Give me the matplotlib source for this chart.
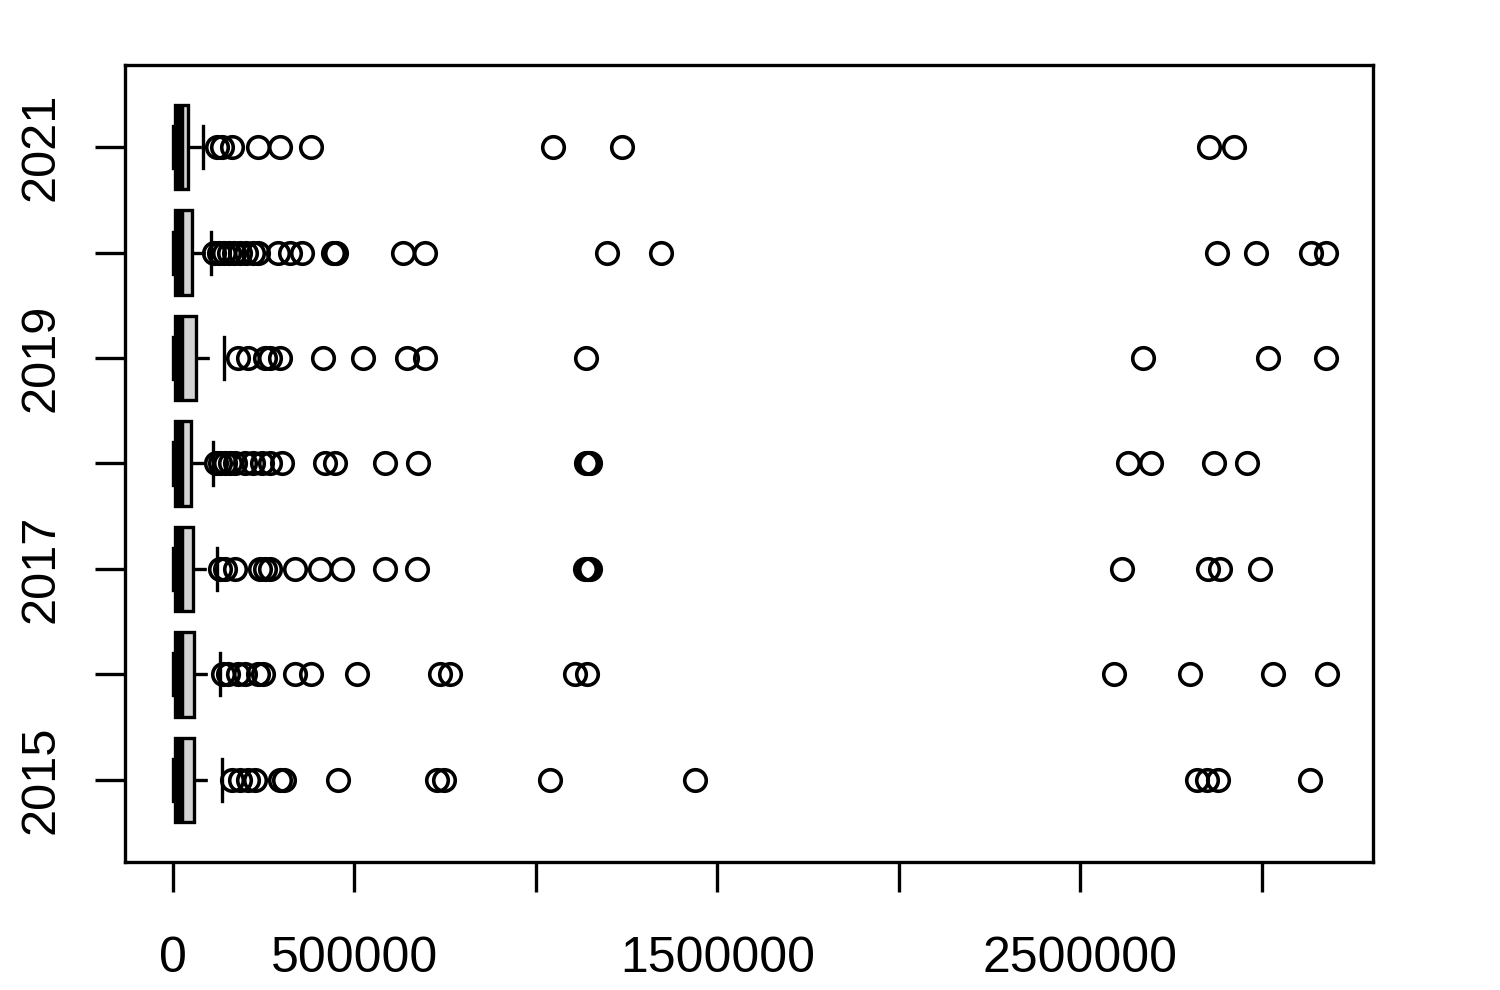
import matplotlib
matplotlib.use("Agg")
import matplotlib.pyplot as plt

plt.rcParams['font.family'] = ['Liberation Sans', 'DejaVu Sans']

# -------------------------------
# Data
# -------------------------------
years = [2015, 2016, 2017, 2018, 2019, 2020, 2021]
year_labels = ['2015', '', '2017', '', '2019', '', '2021']

whislo = [0, 0, 0, 0, 0, 0, 0]
q1 = [5000, 5000, 5000, 5000, 5000, 5000, 5000]
medians = [17000, 17000, 17000, 17000, 17000, 17000, 17000]
q3 = [58000, 58000, 55000, 50000, 63000, 52000, 41000]
whishi = [135000, 129000, 121000, 110000, 140000, 105000, 83000]

out_2015 = [162500, 185000, 207000, 226000, 295000, 306000, 455000, 727000,
            747000, 1039000, 1438000, 2821000, 2848000, 2879000, 3132000]
out_2016 = [138000, 152000, 179000, 198000, 234000, 248000, 336000, 380000,
            507000, 736000, 763000, 1107000, 1140000, 2592000, 2802000,
            3030000, 3179000]
out_2017 = [129000, 143000, 171000, 240000, 253000, 267000, 336000, 405000,
            466000, 584000, 672000, 1135000, 1143000, 1149000, 2614000,
            2851000, 2884000, 2994000]
out_2018 = [118000, 129000, 143000, 157000, 171000, 198000, 220000, 245000,
            267000, 300000, 419000, 446000, 584000, 675000, 1138000, 1143000,
            1149000, 2631000, 2694000, 2868000, 2959000]
out_2019 = [179000, 207000, 253000, 267000, 295000, 413000, 523000, 645000,
            694000, 1138000, 2672000, 3017000, 3176000]
out_2020 = [113000, 127000, 140000, 154000, 168000, 185000, 201000, 220000,
            234000, 289000, 322000, 355000, 441000, 449000, 634000, 694000,
            1196000, 1344000, 2876000, 2983000, 3135000, 3176000]
out_2021 = [121000, 135000, 162500, 234000, 295000, 380000, 1047000, 1237000,
            2854000, 2923000]
outliers = [out_2015, out_2016, out_2017, out_2018, out_2019, out_2020, out_2021]

x_ticks = [0, 500000, 1000000, 1500000, 2000000, 2500000, 3000000]
x_tick_labels = ['0', '500000', '', '1500000', '', '2500000', '']

# -------------------------------
# Build box statistics
# -------------------------------
stats = []
for i in range(len(years)):
    stats.append({
        'whislo': whislo[i], 'q1': q1[i], 'med': medians[i],
        'q3': q3[i], 'whishi': whishi[i], 'fliers': outliers[i],
    })

positions = list(range(1, len(years) + 1))

fig = plt.figure(figsize=(15, 9.9), dpi=100)
ax = fig.add_axes([125 / 1500, 1 - 862 / 990, (1373 - 125) / 1500, (862 - 65) / 990])

lw = 2.4
ax.bxp(stats, positions=positions, widths=0.8, orientation='horizontal',
       patch_artist=True, capwidths=0.4,
       boxprops=dict(facecolor='#D3D3D3', edgecolor='black', linewidth=lw),
       medianprops=dict(color='black', linewidth=6.8, solid_capstyle='butt'),
       whiskerprops=dict(color='black', linewidth=lw, linestyle=(0, (4, 4))),
       capprops=dict(color='black', linewidth=lw),
       flierprops=dict(marker='o', markersize=15.5, markerfacecolor='none',
                       markeredgecolor='black', markeredgewidth=2.6),
       manage_ticks=False)

ax.set_xlim(-132000, 3306000)
ax.set_ylim(0.22, 7.78)

ax.set_xticks(x_ticks)
ax.set_xticklabels(x_tick_labels)
ax.set_yticks(positions)
ax.set_yticklabels(year_labels, rotation=90, va='center')

ax.tick_params(axis='x', length=21.5, width=lw, pad=32, labelsize=36)
ax.tick_params(axis='y', length=21.5, width=lw, pad=23, labelsize=35)

for s in ax.spines.values():
    s.set_linewidth(lw)

fig.savefig("out.png", dpi=100)
